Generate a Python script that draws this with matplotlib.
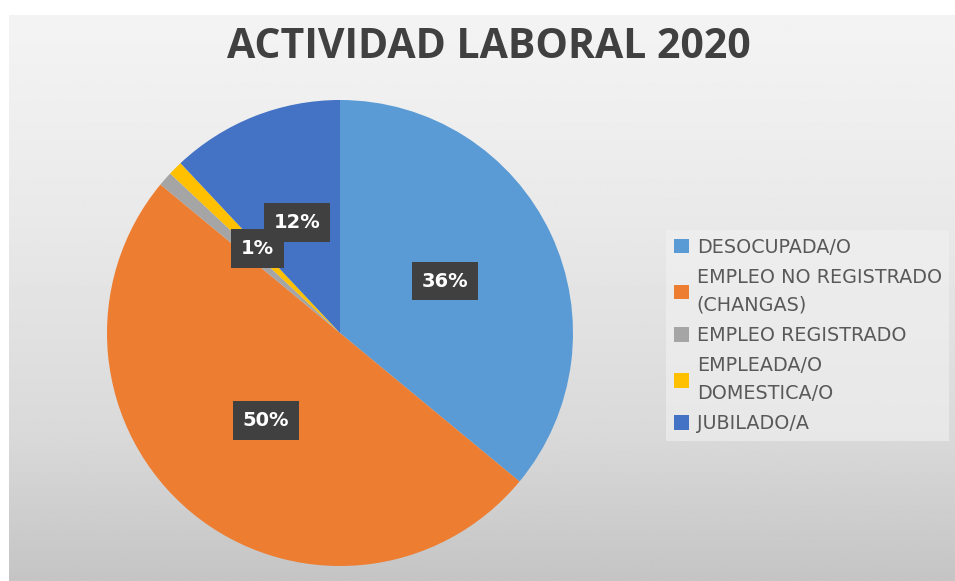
import numpy as np
import matplotlib
matplotlib.use("Agg")
import matplotlib.pyplot as plt
from matplotlib.patches import Patch

# data
categorias = ["DESOCUPADA/O", "EMPLEO NO REGISTRADO\n(CHANGAS)", "EMPLEO REGISTRADO",
              "EMPLEADA/O\nDOMESTICA/O", "JUBILADO/A"]
porcentajes = [36, 50, 1, 1, 12]
colores = ["#5B9BD5", "#ED7D31", "#A5A5A5", "#FFC000", "#4472C4"]
mostrar = [True, True, False, True, True]   # only one 1% label is visible

W, H = 955, 581
fig = plt.figure(figsize=(W / 100, H / 100), dpi=100)
fig.patch.set_facecolor("white")

# background with vertical gradient
bg = fig.add_axes([0, 0, 1, 1], zorder=0)
bg.set_xlim(0, W)
bg.set_ylim(H, 0)
bg.axis("off")
yy = np.linspace(0, 1, 300)
shade = np.interp(yy, [0, 0.35, 0.75, 1.0], [0.955, 0.915, 0.85, 0.77])
grad = np.repeat(shade[:, None], 2, axis=1)
bg.imshow(grad, cmap="gray", vmin=0, vmax=1, extent=[9, W, H, 15], aspect="auto")

# pie axes: center (340, 333), radius ~233 px
r = 233
cx, cy = 340, 333
ax = fig.add_axes([(cx - r) / W, (H - cy - r) / H, 2 * r / W, 2 * r / H], zorder=1)
ax.set_facecolor("none")
wedges, texts = ax.pie(porcentajes, colors=colores, startangle=90, counterclock=False,
                       radius=1, wedgeprops=dict(linewidth=0))
ax.set_xlim(-1, 1)
ax.set_ylim(-1, 1)
ax.set_aspect("equal")

for w, p, m in zip(wedges, porcentajes, mostrar):
    if not m:
        continue
    ang = np.deg2rad((w.theta1 + w.theta2) / 2)
    ax.text(0.5 * np.cos(ang), 0.5 * np.sin(ang) + 0.01, "{}%".format(p),
            ha="center", va="center", color="white", fontsize=14, fontweight="bold",
            family="DejaVu Sans", zorder=5,
            bbox=dict(boxstyle="square,pad=0.5", fc="#404040", ec="none"))

# title
fig.text(489 / W, 1 - 47 / H, "ACTIVIDAD LABORAL 2020", ha="center", va="center",
         fontsize=29.5, fontweight="bold", color="#404040",
         family=["Open Sans", "DejaVu Sans"])

# legend
handles = [Patch(facecolor=c, edgecolor="none") for c in colores]
leg = fig.legend(handles, categorias, loc="upper left",
                 bbox_to_anchor=(666 / W, 1 - 230 / H), bbox_transform=fig.transFigure,
                 prop=dict(family="DejaVu Sans", size=13.8), labelcolor="#595959",
                 frameon=True, fancybox=False, borderpad=0.4, borderaxespad=0,
                 handlelength=0.8, handleheight=0.8, handletextpad=0.4,
                 labelspacing=0.58)
leg.get_frame().set_facecolor("#f2f2f2")
leg.get_frame().set_edgecolor("none")
leg.get_frame().set_alpha(0.6)
leg.set_zorder(3)
for t in leg.get_texts():
    t.set_linespacing(1.6)

fig.savefig("out.png", dpi=100)
